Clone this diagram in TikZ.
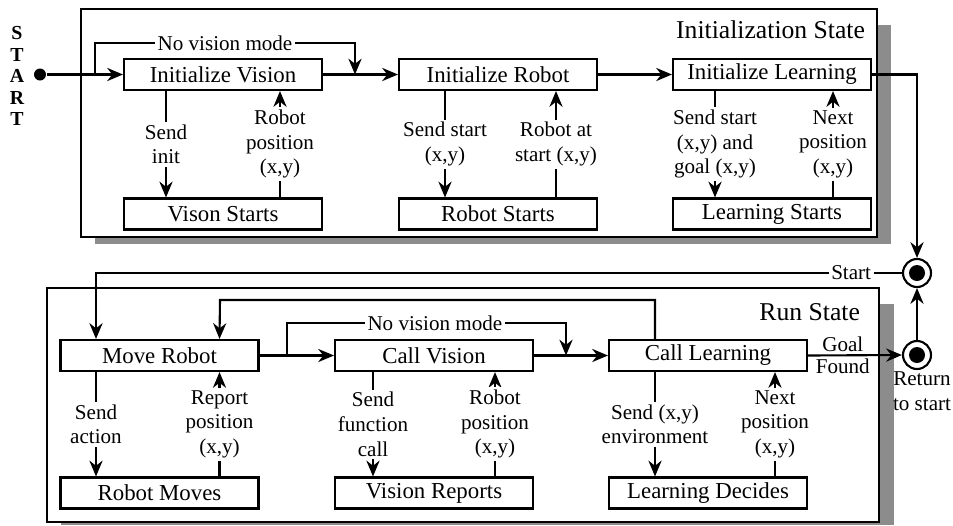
\documentclass[tikz,border=0pt]{standalone}
\usepackage{fontspec}
\setmainfont{Liberation Serif}
\usetikzlibrary{arrows.meta,calc}

\tikzset{
  blk/.style={draw, line width=1.2pt, fill=white, minimum width=3.96cm, minimum height=0.62cm, inner sep=0pt, font=\fontsize{13}{15}\selectfont},
  lbl/.style={fill=white, inner sep=1.5pt, align=center, font=\fontsize{12}{14}\selectfont},
  frm/.style={draw, line width=1.2pt, fill=white},
  shd/.style={fill=black!45},
  ttl/.style={anchor=east, inner sep=0pt, font=\fontsize{14.6}{16}\selectfont},
  tgt/.style={circle, draw, line width=1.2pt, fill=white, minimum size=0.56cm, inner sep=0pt,
    path picture={\fill[black] (path picture bounding box.center) circle (0.16cm);}}
}

\begin{document}
\begin{tikzpicture}[x=0.02cm, y=-0.02cm, line width=1.2pt, >={Stealth[length=9pt,width=7.5pt]}]
\useasboundingbox (0,0) rectangle (953,525);

% frames with shadow
\fill[shd] (95,25) rectangle (891,244);
\draw[frm] (81,9) rectangle (877,237);
\fill[shd] (61,304) rectangle (894,525);
\draw[frm] (47,288) rectangle (879,522);
\node[ttl] (initttl) at (866,30) {Initialization State};
\node[ttl] (runttl) at (861,312) {Run State};

% start
\node[align=center, inner sep=0pt, font=\fontsize{11.3}{12.2}\bfseries] (startlbl) at (17,76) {S\\T\\A\\R\\T};
\node[circle, fill, inner sep=0pt, minimum size=0.24cm] (st) at (40,74.5) {};

% initialization state
\node[blk] (iv) at (223,74.5) {Initialize Vision};
\node[blk] (vs) at (223,214) {Vison Starts};
\node[blk] (ir) at (498,74.5) {Initialize Robot};
\node[blk] (rs) at (498,214) {Robot Starts};
\node[blk] (il) at (772,74.5) {Initialize Learning};
\node[blk] (ls) at (772,214) {Learning Starts};

\coordinate (nvA) at (95,74.5);
\coordinate (nvB) at (355,74.5);
\draw [->] (st) -- (iv.west);
\draw [->] (iv.east) -- (ir.west);
\draw [->] (ir.east) -- (il.west);
\draw [->] (nvA) -- (95,43) -- node[lbl] (nv1) {No vision mode} (355,43) -- (nvB);

\draw [->] ($(iv.south)+(-57,0)$) -- node[lbl] (l1) {Send\\init} ($(vs.north)+(-57,0)$);
\draw [->] ($(vs.north)+(57,0)$) -- node[lbl] (l2) {Robot\\position\\(x,y)} ($(iv.south)+(57,0)$);
\draw [->] ($(ir.south)+(-53,0)$) -- node[lbl] (l3) {Send start\\(x,y)} ($(rs.north)+(-53,0)$);
\draw [->] ($(rs.north)+(58,0)$) -- node[lbl] (l4) {Robot at\\start (x,y)} ($(ir.south)+(58,0)$);
\draw [->] ($(il.south)+(-57,0)$) -- node[lbl] (l5) {Send start\\(x,y) and\\goal (x,y)} ($(ls.north)+(-57,0)$);
\draw [->] ($(ls.north)+(61,0)$) -- node[lbl] (l6) {Next\\position\\(x,y)} ($(il.south)+(61,0)$);

% switch points
\node[tgt] (sc) at (917,273) {};
\node[tgt] (rc) at (917,355) {};
\node[lbl, fill=none, anchor=north] (ret) at (922,368) {Return\\to start};
\draw [->] (il.east) -| (sc.north);
\draw [->] (rc.north) -- (sc.south);

% run state
\node[blk] (mr) at (159.5,355.5) {Move Robot};
\node[blk] (rm) at (159.5,493) {Robot Moves};
\node[blk] (cv) at (434,355.5) {Call Vision};
\node[blk] (vr) at (434,493) {Vision Reports};
\node[blk] (cl) at (708,355.5) {Call Learning};
\node[blk] (ld) at (708,493) {Learning Decides};

\coordinate (nvC) at (287,355.5);
\coordinate (nvD) at (566,355.5);
\draw [->] (mr.east) -- (cv.west);
\draw [->] (cv.east) -- (cl.west);
\draw [->] (nvC) -- (287,323) -- node[lbl, pos=0.53] (nv2) {No vision mode} (566,323) -- (nvD);
\draw [->] ($(cl.north)+(-53,0)$) -- (655,300) -- (220,300) -- ($(mr.north)+(60,0)$);
\draw [->] (sc.west) -- node[lbl, pos=0.063] (stlbl) {Start} (96,273) -- ($(mr.north)+(-63.5,0)$);
\draw [->] (cl.east) -- node[lbl, fill=none, above, pos=0.37] (goal) {Goal} node[lbl, fill=none, below, pos=0.37] (found) {Found} (rc.west);

\draw [->] ($(mr.south)+(-63.5,0)$) -- node[lbl] (l7) {Send\\action} ($(rm.north)+(-63.5,0)$);
\draw [->] ($(rm.north)+(60,0)$) -- node[lbl] (l8) {Report\\position\\(x,y)} ($(mr.south)+(60,0)$);
\draw [->] ($(cv.south)+(-61,0)$) -- node[lbl] (l9) {Send\\function\\call} ($(vr.north)+(-61,0)$);
\draw [->] ($(vr.north)+(61,0)$) -- node[lbl] (l10) {Robot\\position\\(x,y)} ($(cv.south)+(61,0)$);
\draw [->] ($(cl.south)+(-53,0)$) -- node[lbl] (l11) {Send (x,y)\\environment} ($(ld.north)+(-53,0)$);
\draw [->] ($(ld.north)+(67,0)$) -- node[lbl] (l12) {Next\\position\\(x,y)} ($(cl.south)+(67,0)$);
\end{tikzpicture}
\end{document}
